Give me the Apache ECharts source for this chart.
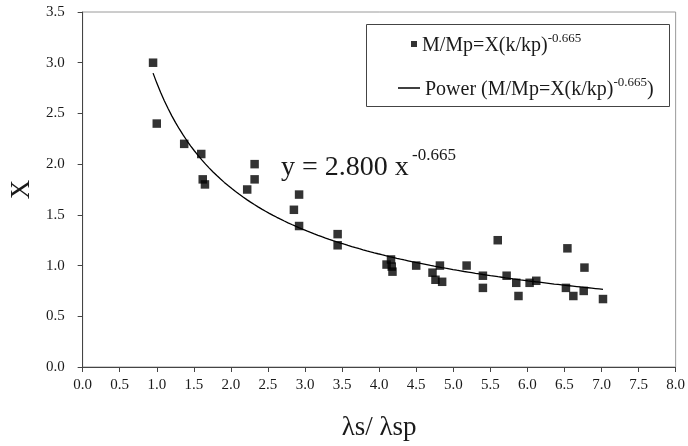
<!DOCTYPE html>
<html>
<head>
<meta charset="utf-8">
<script src="https://cdn.jsdelivr.net/npm/echarts@6/dist/echarts.min.js"></script>
<style>
  html, body { margin: 0; padding: 0; background: #fff; }
  #chart { width: 688px; height: 446px; }
</style>
</head>
<body>
<div id="chart"></div>
<script>
// Measured ratio λs/λsp for each sample
const ratioX = [0.95, 1.0, 1.37, 1.6, 1.62, 1.65, 2.22, 2.32, 2.32, 2.85, 2.92, 2.92,
  3.44, 3.44, 4.1, 4.16, 4.17, 4.18, 4.5, 4.72, 4.82, 4.76, 4.85, 5.18, 5.6, 5.4, 5.4,
  5.72, 5.85, 5.88, 6.03, 6.12, 6.54, 6.52, 6.62, 6.77, 6.76, 7.02];
// Corresponding X values
const valueX = [3.0, 2.4, 2.2, 2.1, 1.85, 1.8, 1.75, 2.0, 1.85, 1.55, 1.7, 1.39,
  1.31, 1.2, 1.01, 1.06, 0.99, 0.94, 1.0, 0.93, 1.0, 0.86, 0.84, 1.0, 1.25, 0.9, 0.78,
  0.9, 0.83, 0.7, 0.83, 0.85, 1.17, 0.78, 0.7, 0.98, 0.75, 0.67];

// Power trendline as printed on the chart: y = 2.800 x^-0.665
const fitCoef = 2.8;
const fitExp = -0.665;

const xTicks = { min: 0, max: 8, interval: 0.5 };
const yTicks = { min: 0, max: 3.5, interval: 0.5 };

const scatterName = 'M/Mp=X(k/kp)^-0.665';
const powerName = 'Power (M/Mp=X(k/kp)^-0.665)';

const points = ratioX.map((x, i) => [x, valueX[i]]);

// Sample the fitted power curve across the span of the measurements
const xLo = Math.min(...ratioX), xHi = Math.max(...ratioX);
const fitCurve = [];
for (let k = 0; k <= 120; k++) {
  const x = xLo + (xHi - xLo) * k / 120;
  fitCurve.push([x, fitCoef * Math.pow(x, fitExp)]);
}

const serif = '"Liberation Serif", "Times New Roman", serif';
const ink = '#1a1a1a';

const chart = echarts.init(document.getElementById('chart'), null, { renderer: 'canvas' });

const legendRich = {
  n: { fontFamily: serif, fontSize: 20, color: ink, lineHeight: 24, verticalAlign: 'bottom' },
  s: { fontFamily: serif, fontSize: 13, color: ink, lineHeight: 24, verticalAlign: 'top' }
};

chart.setOption({
  animation: false,
  backgroundColor: '#fff',
  grid: {
    left: 82, right: 12, top: 12, bottom: 79,
    show: true, borderColor: '#9a9a9a', borderWidth: 1, backgroundColor: '#fff'
  },
  xAxis: {
    type: 'value',
    min: xTicks.min, max: xTicks.max, interval: xTicks.interval,
    name: 'λs/ λsp',
    nameLocation: 'middle',
    nameGap: 47,
    nameTextStyle: { fontFamily: serif, fontSize: 27, color: ink },
    axisLine: { show: true, lineStyle: { color: '#444', width: 1 } },
    axisTick: { show: true, inside: false, length: 5, lineStyle: { color: '#444' } },
    axisLabel: { fontFamily: serif, fontSize: 15, color: ink, margin: 11,
      formatter: v => v.toFixed(1) },
    splitLine: { show: false }
  },
  yAxis: {
    type: 'value',
    min: yTicks.min, max: yTicks.max, interval: yTicks.interval,
    name: 'X',
    nameLocation: 'middle',
    nameRotate: 90,
    nameGap: 42,
    nameTextStyle: { fontFamily: serif, fontSize: 27, color: ink },
    axisLine: { show: true, lineStyle: { color: '#444', width: 1 } },
    axisTick: { show: true, inside: false, length: 5, lineStyle: { color: '#444' } },
    axisLabel: { fontFamily: serif, fontSize: 15, color: ink, margin: 18,
      formatter: v => v.toFixed(1) },
    splitLine: { show: false }
  },
  legend: [
    {
      data: [{ name: scatterName, icon: 'rect' }],
      left: 406, top: 27,
      itemWidth: 6, itemHeight: 6,
      formatter: () => '{n|M/Mp=X(k/kp)}{s|-0.665}',
      textStyle: { rich: legendRich }
    },
    {
      data: [{ name: powerName, icon: 'rect' }],
      left: 393, top: 71,
      itemWidth: 22, itemHeight: 1.5,
      formatter: () => '{n|Power (M/Mp=X(k/kp)}{s|-0.665}{n|)}',
      textStyle: { rich: legendRich }
    }
  ],
  graphic: [
    {
      type: 'rect', z: 0,
      shape: { x: 366.5, y: 24.5, width: 303, height: 82 },
      style: { fill: '#fff', stroke: '#444', lineWidth: 1 }
    },
    {
      type: 'text', z: 10, left: 281, top: 154,
      style: { text: 'y = 2.800 x', font: '28px ' + serif, fill: ink }
    },
    {
      type: 'text', z: 10, left: 412, top: 147,
      style: { text: '-0.665', font: '17px ' + serif, fill: ink }
    }
  ],
  series: [
    {
      name: scatterName,
      type: 'scatter',
      data: points,
      symbol: 'rect',
      symbolSize: 8.5,
      itemStyle: { color: '#000' },
      z: 3
    },
    {
      name: powerName,
      type: 'line',
      data: fitCurve,
      symbol: 'none',
      smooth: false,
      lineStyle: { color: '#000', width: 1.3 },
      itemStyle: { color: '#000' },
      z: 2
    }
  ]
});
</script>
</body>
</html>
